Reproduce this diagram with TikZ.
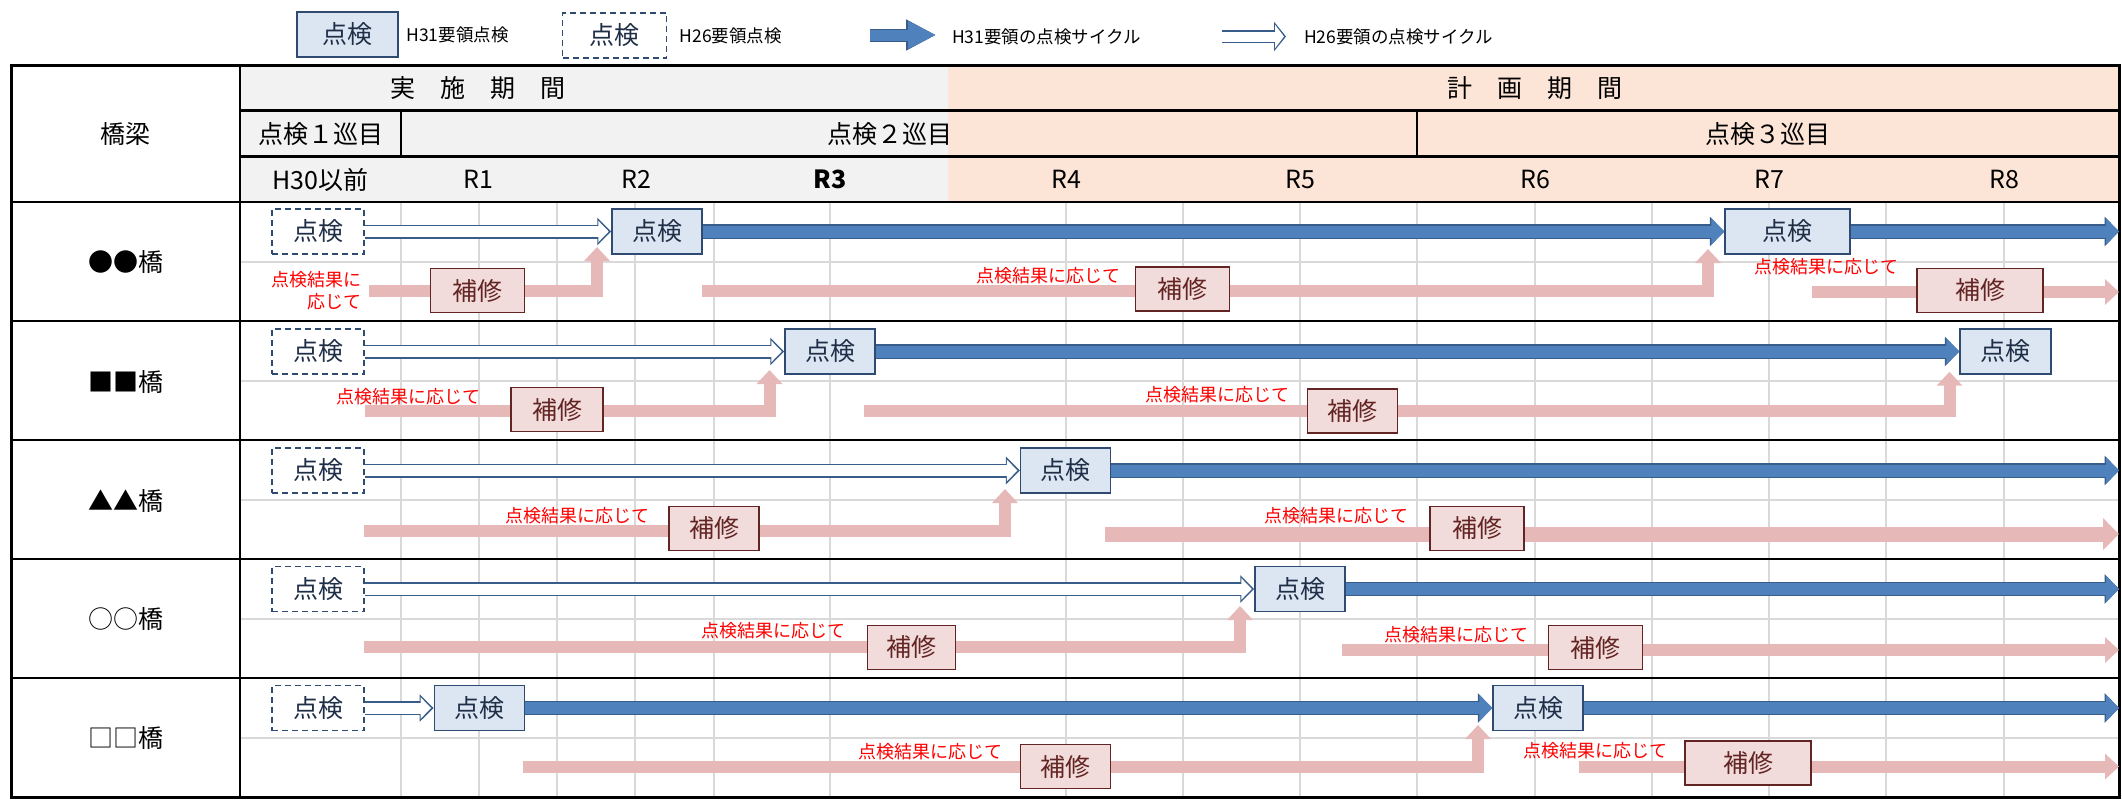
\documentclass[tikz,border=0pt]{standalone}
\usepackage{fontspec}
\setmainfont{Noto Sans CJK JP}
\usetikzlibrary{arrows.meta,positioning}
\pgfdeclarelayer{background}
\pgfdeclarelayer{arrows}
\pgfsetlayers{background,arrows,main}
\definecolor{hdrgray}{HTML}{F2F2F2}
\definecolor{hdrorange}{HTML}{FCE4D6}
\definecolor{gridgray}{HTML}{D9D9D9}
\definecolor{boxfill}{HTML}{DCE6F2}
\definecolor{boxline}{HTML}{2F4B72}
\definecolor{boxtext}{HTML}{1F2F48}
\definecolor{cyclefill}{HTML}{4F81BD}
\definecolor{cycleline}{HTML}{385D8A}
\definecolor{repairpink}{HTML}{E6B9B8}
\definecolor{repairfill}{HTML}{F2DCDB}
\definecolor{repairline}{HTML}{632523}
\tikzstyle{inspect}=[draw=boxline,fill=boxfill,line width=1.5pt,text=boxtext,minimum width=90pt,minimum height=45pt,inner sep=0pt,font=\fontsize{25}{30}\selectfont]
\tikzstyle{oldinspect}=[inspect,fill=white,dash pattern=on 6pt off 4pt,minimum width=92pt]
\tikzstyle{repair}=[draw=repairline,fill=repairfill,line width=1.5pt,text=repairline,minimum width=92pt,minimum height=44pt,inner sep=0pt,font=\fontsize{25}{30}\selectfont]
\tikzstyle{note}=[text=red,inner sep=0pt,font=\fontsize{18}{22}\selectfont]
\tikzstyle{hdr}=[inner sep=0pt,font=\fontsize{25}{30}\selectfont]
\tikzstyle{keytext}=[inner sep=0pt,anchor=west,font=\fontsize{17.5}{21}\selectfont]
\tikzstyle{cyclearrow}=[line width=12pt,draw=cyclefill,-{Triangle[width=26pt,length=13pt]},
    preaction={draw=cycleline,line width=14.5pt,-{Triangle[width=29pt,length=14.5pt]}}]
\tikzstyle{oldcycle}=[line width=11pt,draw=white,shorten >=2.5pt,-{Triangle[width=21pt,length=10.5pt]},
    preaction={draw=cycleline,line width=14pt,shorten >=0pt,-{Triangle[width=27pt,length=14pt]}}]
\tikzstyle{keycycle}=[line width=11pt,draw=cyclefill,-{Triangle[width=26pt,length=28pt]},
    preaction={draw=cycleline,line width=13pt,-{Triangle[width=29pt,length=30pt]}}]
\tikzstyle{keyoldcycle}=[line width=10pt,draw=white,shorten >=2pt,-{Triangle[width=23pt,length=9pt]},
    preaction={draw=cycleline,line width=13pt,shorten >=0pt,-{Triangle[width=29pt,length=12pt]}}]
\tikzstyle{fixarrow}=[line width=12pt,draw=repairpink,line join=miter,-{Triangle[width=25pt,length=14pt]}]
\tikzstyle{gridline}=[draw=gridgray,line width=2pt]
\tikzstyle{ruleline}=[draw=black,line width=2.5pt]

\begin{document}
\begin{tikzpicture}[x=1pt,y=-1pt]
    \useasboundingbox (0,0) rectangle (2122,803);
    % Legend
    \node[inspect,minimum width=101pt] (keynew) at (347.5,34.5) {点検};
    \node[keytext,right=7.5pt of keynew] (keynewtext) {H31要領点検};
    \node[oldinspect,minimum width=104pt] (keyold) at (614.7,35.5) {点検};
    \node[keytext,right=12pt of keyold] (keyoldtext) {H26要領点検};
    \coordinate (keyc1) at (870,35);
    \coordinate (keyc2) at (936,35);
    \node[keytext] (keycycletext) at (952,36.5) {H31要領の点検サイクル};
    \coordinate (keyo1) at (1222,36.5);
    \coordinate (keyo2) at (1286,36.5);
    \node[keytext] (keyoldcycletext) at (1304,36.5) {H26要領の点検サイクル};
    % Table header
    \node[hdr] (bridgehead) at (125.5,133.5) {橋梁};
    \node[hdr] (done) at (478,88) {実　施　期　間};
    \node[hdr] (plan) at (1535,88) {計　画　期　間};
    \node[hdr] (round1) at (320.5,133.7) {点検１巡目};
    \node[hdr] (round2) at (889.5,133.7) {点検２巡目};
    \node[hdr] (round3) at (1767.5,133.7) {点検３巡目};
    \foreach \x/\yr [count=\i] in {320.5/H30以前, 478/R1, 636/R2, 1066/R4, 1300/R5, 1535/R6, 1769/R7, 2004/R8}
        \node[hdr] (year\i) at (\x,179.5) {\yr};
    \node[hdr,font=\fontsize{25}{30}\selectfont\bfseries] (yearR3) at (830,179.5) {R3};
    % Bridges and the boxes of H26 inspections
    \foreach \name/\y [count=\i] in {●●橋/231.5, ■■橋/351.5, ▲▲橋/470.5, ○○橋/589, □□橋/708}
    {
        \node[hdr] (bridge\i) at (125.5,\y+30) {\name};
        \node[oldinspect] (old\i) at (318,\y) {点検};
    }
    % H31 inspections
    \foreach \x/\y/\w/\n in {657/231.5/90/1a, 1787.5/231.5/125/1b, 830/351.5/90/2a, 2005.5/351.5/91/2b,
        1065.6/470.5/90/3a, 1300/589/90/4a, 479.3/708/90/5a, 1538/708/90/5b}
        \node[inspect,minimum width=\w pt] (insp\n) at (\x,\y) {点検};
    % Repairs
    \foreach \x/\y/\w/\n in {477.3/290.5/94/1a, 1182.6/289/94/1b, 1980/290.3/126/1c, 557/409.7/92/2a,
        1352.7/411/90/2b, 714/528.3/90/3a, 1477/528.3/94/3b, 911.7/647.3/88/4a, 1595.7/647.5/94/4b,
        1065.6/766.5/90/5a, 1748/763/126/5b}
        \node[repair,minimum width=\w pt] (rep\n) at (\x,\y) {補修};
    \node[note,align=right,anchor=east] (note1a) at (362,291) {点検結果に\\応じて};
    \foreach \x/\y/\n in {1048.5/276/1b, 1826/266.7/1c, 408.5/396.7/2a, 1217/395/2b, 577.3/516/3a,
        1336.4/516/3b, 773/631/4a, 1456.7/635/4b, 930/751.7/5a, 1595.2/750.7/5b}
        \node[note] (note\n) at (\x,\y) {点検結果に応じて};
    % Free ends of the arrows
    \foreach \n/\y in {1/231.5, 3/470.5, 4/589, 5/708}
        \coordinate (end\n) at (2119,\y);
    \coordinate (fix1a) at (369,290.5);   \coordinate (fix1at) at (597,247);
    \coordinate (fix1b) at (702,290.5);   \coordinate (fix1bt) at (1708,249);
    \coordinate (fix1c) at (1812,292);    \coordinate (fix1ct) at (2119,292);
    \coordinate (fix2a) at (365,411);     \coordinate (fix2at) at (769.5,370);
    \coordinate (fix2b) at (864,411);     \coordinate (fix2bt) at (1949.5,371.7);
    \coordinate (fix3a) at (364,530.5);   \coordinate (fix3at) at (1005,489);
    \coordinate (fix3b) at (1104.5,534);  \coordinate (fix3bt) at (2119,534);
    \coordinate (fix4a) at (364,647);     \coordinate (fix4at) at (1240,606);
    \coordinate (fix4b) at (1342,650);    \coordinate (fix4bt) at (2119,650);
    \coordinate (fix5a) at (523.3,766.5); \coordinate (fix5at) at (1478,725);
    \coordinate (fix5b) at (1579,766.5);  \coordinate (fix5bt) at (2119,766.5);
    % Arrows
    \begin{pgfonlayer}{arrows}
        \draw[keycycle] (keyc1) -- (keyc2);
        \draw[keyoldcycle] (keyo1) -- (keyo2);
        \foreach \i in {1,...,5}
            \draw[oldcycle] (old\i.east) -- (insp\i a.west);
        \foreach \a/\b in {1a/1b, 2a/2b, 5a/5b}
            \draw[cyclearrow] (insp\a.east) -- (insp\b.west);
        \foreach \a/\b in {1b/1, 3a/3, 4a/4, 5b/5}
            \draw[cyclearrow] (insp\a.east) -- (end\b);
        \foreach \n in {1a,1b,2a,2b,3a,4a,5a}
            \draw[fixarrow] (fix\n) -| (fix\n t);
        \foreach \n in {1c,4b,5b}
            \draw[fixarrow] (fix\n) -- (fix\n t);
        \draw[fixarrow,line width=15pt,-{Triangle[width=31pt,length=16pt]}] (fix3b) -- (fix3bt);
    \end{pgfonlayer}
    % Table grid and rules
    \begin{pgfonlayer}{background}
        \fill[hdrgray] (240,65) rectangle (948,202);
        \fill[hdrorange] (948,65) rectangle (2119,202);
        \foreach \x in {401,479,557,635,714,830,1066,1183,1300,1417,1535,1652,1769,1886,2004}
            \draw[gridline] (\x,202) -- (\x,797);
        \foreach \y in {202,321,440,559,678}
            \draw[gridline] (240,\y+60) -- (2119,\y+60);
        \draw[ruleline,line width=3pt] (11,65) rectangle (2119,797);
        \draw[ruleline] (240,65) -- (240,797);
        \foreach \y in {110.7,156.7}
            \draw[ruleline] (240,\y) -- (2119,\y);
        \foreach \y in {202,321,440,559,678}
            \draw[ruleline] (11,\y) -- (2119,\y);
        \draw[ruleline] (401,110.7) -- (401,156.7);
        \draw[ruleline] (1417,110.7) -- (1417,156.7);
    \end{pgfonlayer}
\end{tikzpicture}
\end{document}
